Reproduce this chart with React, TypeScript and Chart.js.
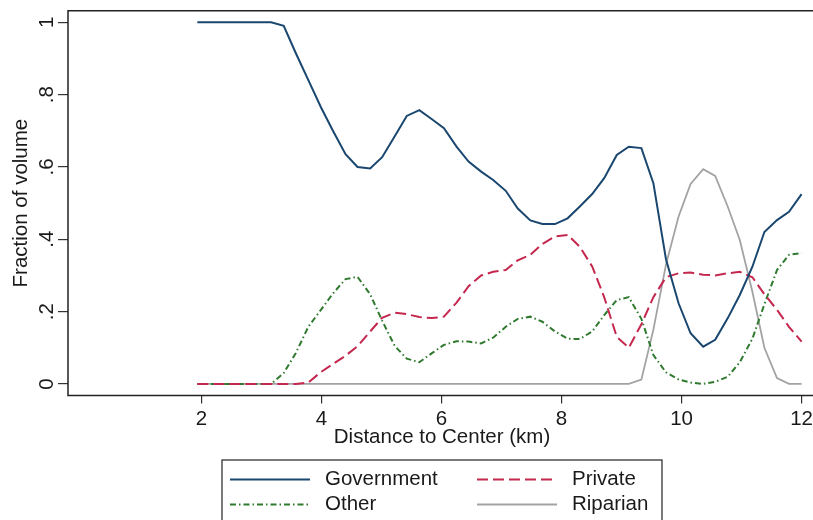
import React, { useEffect, useRef } from "react";
import { Chart, registerables } from "chart.js";

Chart.register(...registerables);

// Distance grid (km)
const distanceKm = [
  1.93, 2.14, 2.34, 2.55, 2.75, 2.96, 3.16, 3.37, 3.57, 3.78,
  3.99, 4.19, 4.40, 4.60, 4.81, 5.01, 5.22, 5.42, 5.63, 5.84,
  6.04, 6.25, 6.45, 6.66, 6.86, 7.07, 7.27, 7.48, 7.68, 7.89,
  8.10, 8.30, 8.51, 8.71, 8.92, 9.12, 9.33, 9.53, 9.74, 9.95,
  10.15, 10.36, 10.56, 10.77, 10.97, 11.18, 11.38, 11.59, 11.79, 12.00,
];

const government = [
  1, 1, 1, 1, 1, 1, 1, 0.99, 0.915, 0.84,
  0.765, 0.70, 0.635, 0.60, 0.596, 0.627, 0.685, 0.741, 0.757, 0.732,
  0.707, 0.656, 0.615, 0.587, 0.564, 0.534, 0.485, 0.452, 0.442, 0.442,
  0.458, 0.49, 0.525, 0.569, 0.633, 0.656, 0.652, 0.555, 0.345, 0.223,
  0.14, 0.103, 0.122, 0.182, 0.246, 0.324, 0.42, 0.453, 0.476, 0.525,
];

const privateShare = [
  0, 0, 0, 0, 0, 0, 0, 0, 0, 0.004,
  0.033, 0.055, 0.078, 0.104, 0.145, 0.183, 0.197, 0.193, 0.185, 0.182,
  0.186, 0.225, 0.27, 0.30, 0.31, 0.315, 0.342, 0.357, 0.387, 0.408,
  0.412, 0.38, 0.325, 0.24, 0.13, 0.10, 0.165, 0.24, 0.295, 0.306,
  0.308, 0.302, 0.30, 0.306, 0.31, 0.295, 0.248, 0.205, 0.158, 0.117,
];

const otherShare = [
  0, 0, 0, 0, 0, 0, 0, 0.03, 0.085, 0.158,
  0.205, 0.25, 0.29, 0.296, 0.248, 0.175, 0.105, 0.07, 0.06, 0.085,
  0.108, 0.118, 0.117, 0.112, 0.128, 0.158, 0.18, 0.186, 0.172, 0.145,
  0.125, 0.124, 0.145, 0.19, 0.232, 0.24, 0.18, 0.08, 0.032, 0.012,
  0.004, 0, 0.006, 0.02, 0.06, 0.125, 0.22, 0.315, 0.357, 0.362,
];

const riparian = [
  0, 0, 0, 0, 0, 0, 0, 0, 0, 0,
  0, 0, 0, 0, 0, 0, 0, 0, 0, 0,
  0, 0, 0, 0, 0, 0, 0, 0, 0, 0,
  0, 0, 0, 0, 0, 0, 0.012, 0.15, 0.33, 0.463,
  0.553, 0.594, 0.575, 0.49, 0.398, 0.255, 0.1, 0.016, 0, 0,
];

const seriesNames = ["Government", "Private", "Other", "Riparian"];

const xTickValues = [2, 4, 6, 8, 10, 12];
const xTickLabels = ["2", "4", "6", "8", "10", "12"];
const yTickValues = [0, 0.2, 0.4, 0.6, 0.8, 1];
const yTickLabels = ["0", ".2", ".4", ".6", ".8", "1"];

const xTitle = "Distance to Center (km)";
const yTitle = "Fraction of volume";

const FONT = "'Liberation Sans', Arial, Helvetica, sans-serif";
const FSIZE = 20.5;
const TEXT = "#1a1a1a";

export default function App() {
  const ref = useRef<HTMLCanvasElement>(null);

  useEffect(() => {
    const canvas = ref.current;
    if (!canvas) return;

    const pts = (vals: number[]) => distanceKm.map((x, i) => ({ x, y: vals[i] }));

    const styles = [
      { color: "#1a476f", dash: [] as number[], width: 2 },
      { color: "#c4284e", dash: [11, 5], width: 2 },
      { color: "#2f7a2f", dash: [6, 3, 1.5, 3], width: 2 },
      { color: "#a3a3a3", dash: [] as number[], width: 1.8 },
    ];
    const values = [government, privateShare, otherShare, riparian];

    // plot region outline: top, left and bottom (right side lies beyond the picture)
    const boxPlugin = {
      id: "plotBox",
      afterDatasetsDraw(chart: any) {
        const { ctx, chartArea } = chart;
        const { left, right, top, bottom } = chartArea;
        ctx.save();
        ctx.strokeStyle = "#222";
        ctx.lineWidth = 1.5;
        ctx.setLineDash([]);
        ctx.beginPath();
        ctx.moveTo(right + 30, top);
        ctx.lineTo(left, top);
        ctx.lineTo(left, bottom);
        ctx.lineTo(right + 30, bottom);
        ctx.stroke();
        ctx.restore();
      },
    };

    const legendPlugin = {
      id: "boxLegend",
      afterDraw(chart: any) {
        const { ctx, chartArea } = chart;
        const cx = (chartArea.left + chartArea.right) / 2;
        const boxW = 440;
        const boxL = cx - boxW / 2;
        const boxT = chartArea.bottom + 64.5;
        ctx.save();
        ctx.strokeStyle = "#222";
        ctx.lineWidth = 1.2;
        ctx.setLineDash([]);
        ctx.strokeRect(boxL, boxT, boxW, 74);
        ctx.font = `${FSIZE}px ${FONT}`;
        ctx.textBaseline = "middle";
        ctx.textAlign = "left";
        chart.data.datasets.forEach((ds: any, i: number) => {
          const col = i % 2;
          const row = Math.floor(i / 2);
          const lx = boxL + 8 + col * 247;
          const ly = boxT + 19.5 + row * 25;
          ctx.save();
          ctx.strokeStyle = ds.borderColor;
          ctx.lineWidth = ds.borderWidth;
          ctx.setLineDash(ds.borderDash || []);
          ctx.beginPath();
          ctx.moveTo(lx, ly);
          ctx.lineTo(lx + 80, ly);
          ctx.stroke();
          ctx.restore();
          ctx.fillStyle = TEXT;
          ctx.fillText(ds.label, lx + 95, ly);
        });
        ctx.restore();
      },
    };

    const chart = new Chart(canvas, {
      type: "line",
      data: {
        datasets: seriesNames.map((name, k) => ({
          label: name,
          data: pts(values[k]),
          borderColor: styles[k].color,
          borderDash: styles[k].dash,
          borderWidth: styles[k].width,
          pointRadius: 0,
          tension: 0,
          fill: false,
        })),
      },
      options: {
        animation: false,
        responsive: false,
        devicePixelRatio: 1,
        events: [],
        layout: { padding: { left: 0, top: 10.7, right: 44, bottom: 90 } },
        plugins: {
          legend: { display: false },
          tooltip: { enabled: false },
        },
        scales: {
          x: {
            type: "linear",
            min: -0.225,
            max: 12.24,
            afterBuildTicks: (s: any) => {
              s.ticks = xTickValues.map((v) => ({ value: v }));
            },
            afterFit: (s: any) => {
              s.height = 54.5;
              s.paddingLeft = 0;
              s.paddingRight = 0;
            },
            border: { display: false },
            grid: {
              display: true,
              drawOnChartArea: false,
              drawTicks: true,
              tickLength: 8,
              color: "#333",
              lineWidth: 1.2,
            },
            ticks: {
              autoSkip: false,
              minRotation: 0,
              maxRotation: 0,
              padding: 4,
              color: TEXT,
              font: { family: FONT, size: FSIZE },
              callback: (_v: any, i: number) => xTickLabels[i],
            },
            title: {
              display: true,
              text: xTitle,
              color: TEXT,
              font: { family: FONT, size: FSIZE },
              padding: { top: 0, bottom: 0 },
            },
          },
          y: {
            type: "linear",
            min: -0.032,
            max: 1.032,
            afterBuildTicks: (s: any) => {
              s.ticks = yTickValues.map((v) => ({ value: v }));
            },
            afterFit: (s: any) => {
              s.width = 68;
              s.paddingTop = 0;
              s.paddingBottom = 0;
            },
            border: { display: false },
            grid: {
              display: true,
              drawOnChartArea: false,
              drawTicks: true,
              tickLength: 10,
              color: "#333",
              lineWidth: 1.2,
            },
            ticks: {
              autoSkip: false,
              minRotation: 90,
              maxRotation: 90,
              crossAlign: "center",
              padding: 2.6,
              color: TEXT,
              font: { family: FONT, size: FSIZE },
              callback: (_v: any, i: number) => yTickLabels[i],
            },
            title: {
              display: true,
              text: yTitle,
              color: TEXT,
              font: { family: FONT, size: FSIZE },
              padding: { top: 9.2, bottom: 0 },
            },
          },
        },
      },
      plugins: [boxPlugin, legendPlugin],
    } as any);

    return () => chart.destroy();
  }, []);

  return (
    <div
      style={{
        position: "fixed",
        left: 0,
        top: 0,
        width: 813,
        height: 520,
        overflow: "hidden",
        background: "#fff",
      }}
    >
      <canvas ref={ref} width={860} height={540} style={{ display: "block" }} />
    </div>
  );
}
